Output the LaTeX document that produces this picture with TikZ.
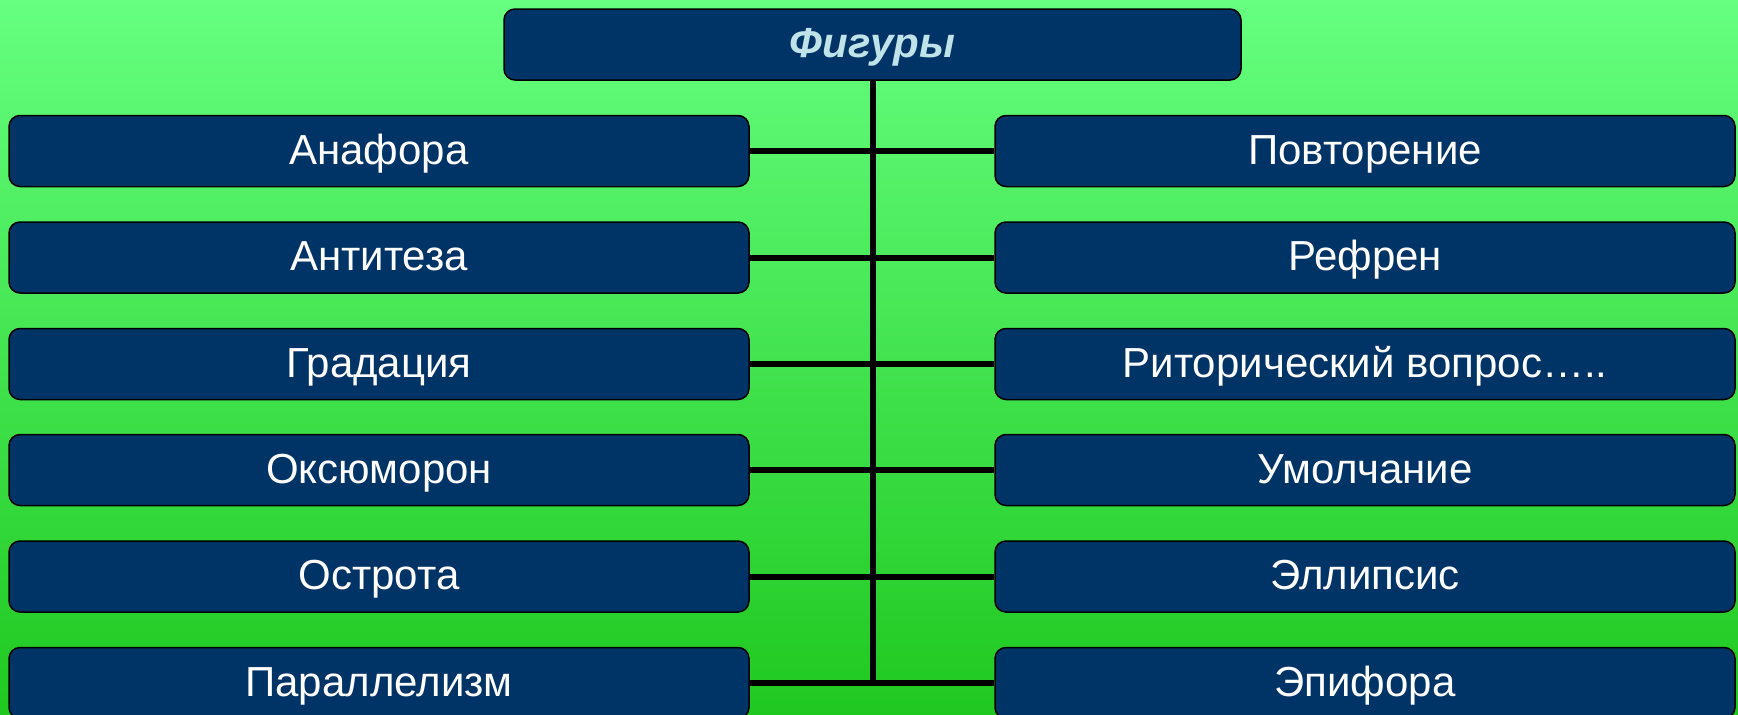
\documentclass[tikz,border=0pt]{standalone}
\usepackage{fontspec}
\setmainfont{Liberation Sans}
\definecolor{bgtop}{HTML}{66FF80}
\definecolor{bgbot}{HTML}{1FC81F}
\definecolor{boxfill}{HTML}{003366}
\definecolor{titletext}{HTML}{BFE3E8}
\tikzset{
  itembox/.style={draw=black, line width=1.5pt, fill=boxfill, rounded corners=11pt,
    minimum width=740pt, minimum height=71pt, inner sep=0pt, text=white,
    text height=30pt, text depth=4pt,
    font=\fontsize{42}{50}\selectfont},
  titlebox/.style={itembox, minimum width=737pt, text=titletext,
    font=\fontsize{42}{50}\selectfont\bfseries\itshape},
  conn/.style={draw=black, line width=6pt}
}
\begin{document}
\begin{tikzpicture}[x=1pt,y=-1pt]
\useasboundingbox (0,0) rectangle (1738,715);
\clip (0,0) rectangle (1738,715);
\shade[top color=bgtop, bottom color=bgbot] (0,0) rectangle (1738,715);
\node[titlebox] (top) at (872.5,44.5) {Фигуры};
\node[itembox] (L1) at (379,151) {Анафора};
\node[itembox] (L2) at (379,257.5) {Антитеза};
\node[itembox] (L3) at (379,364) {Градация};
\node[itembox] (L4) at (379,470) {Оксюморон};
\node[itembox] (L5) at (379,576.5) {Острота};
\node[itembox] (L6) at (379,683) {Параллелизм};
\node[itembox] (R1) at (1365,151) {Повторение};
\node[itembox] (R2) at (1365,257.5) {Рефрен};
\node[itembox] (R3) at (1365,364) {Риторический вопрос…..};
\node[itembox] (R4) at (1365,470) {Умолчание};
\node[itembox] (R5) at (1365,576.5) {Эллипсис};
\node[itembox] (R6) at (1365,683) {Эпифора};
\coordinate (trunkend) at (top.south |- L6.east);
\draw[conn] (top.south) -- ([yshift=3pt]trunkend);
\foreach \i in {1,...,6}{
  \draw[conn] (L\i.east) -- (R\i.west);
}
\end{tikzpicture}
\end{document}
